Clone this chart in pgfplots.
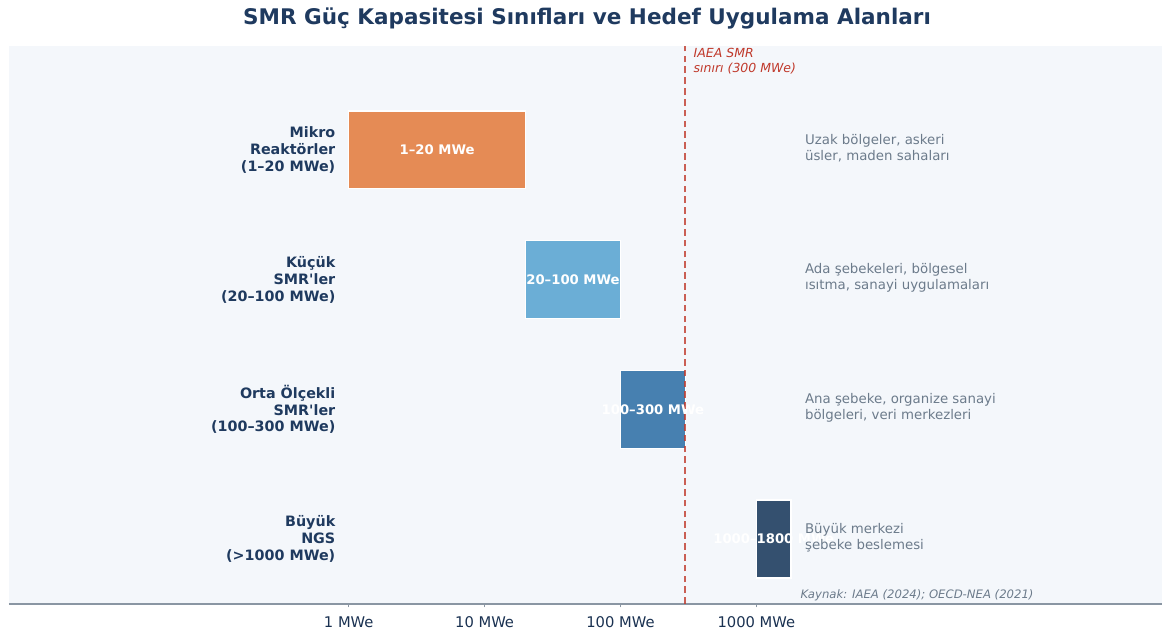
\documentclass[border=0pt]{standalone}
\usepackage{pgfplots}
\pgfplotsset{compat=1.18}
\usepackage{fontspec}
\setmainfont{DejaVu Sans}
\newlength\px
\setlength\px{0.72pt}
\definecolor{bgc}{HTML}{F4F7FB}
\definecolor{cmikro}{HTML}{E58B55}
\definecolor{ckucuk}{HTML}{6BAED6}
\definecolor{corta}{HTML}{4780B0}
\definecolor{cbuyuk}{HTML}{34506F}
\definecolor{ctitle}{HTML}{1F3A5F}
\definecolor{cgray}{HTML}{6C7B8B}
\definecolor{cred}{HTML}{C0392B}
\definecolor{cspine}{HTML}{8A96A3}
\begin{document}
\begin{tikzpicture}
\begin{axis}[
  at={(0,0)}, anchor=south west,
  width=1153\px, height=558\px, scale only axis,
  xmode=log, xmin=0.003162, xmax=966000,
  ymin=-0.5, ymax=3.8,
  axis background/.style={fill=bgc},
  axis x line*=bottom, axis y line=none,
  x axis line style={draw=cspine, line width=1.1pt},
  xtick={1,10,100,1000},
  xticklabels={1 MWe,10 MWe,100 MWe,1000 MWe},
  xminorticks=false,
  ytick=\empty,
  tick align=outside,
  major tick length=3.5\px,
  xtick style={draw=cspine, line width=0.8pt},
  xticklabel style={font=\fontsize{10.6pt}{12pt}\selectfont, text=ctitle!85!black, yshift=-3pt},
  clip=false,
]
\addplot[fill=cmikro, draw=white, line width=1pt] coordinates {(1,2.7) (20,2.7) (20,3.3) (1,3.3)} -- cycle;
\addplot[fill=ckucuk, draw=white, line width=1pt] coordinates {(20,1.7) (100,1.7) (100,2.3) (20,2.3)} -- cycle;
\addplot[fill=corta, draw=white, line width=1pt] coordinates {(100,0.7) (300,0.7) (300,1.3) (100,1.3)} -- cycle;
\addplot[fill=cbuyuk, draw=white, line width=1pt] coordinates {(1000,-0.3) (1800,-0.3) (1800,0.3) (1000,0.3)} -- cycle;
\addplot[draw=cred, draw opacity=0.8, line width=1.5pt, dash pattern=on 4.8pt off 3pt] coordinates {(300,-0.5) (300,3.8)};
% bar labels
\node[text=white, font=\bfseries\fontsize{9.5pt}{11pt}\selectfont] at (axis cs:4.472,3) {1–20 MWe};
\node[text=white, font=\bfseries\fontsize{9.5pt}{11pt}\selectfont] at (axis cs:44.72,2) {20–100 MWe};
\node[text=white, font=\bfseries\fontsize{9.5pt}{11pt}\selectfont] at (axis cs:173.2,1) {100–300 MWe};
\node[text=white, font=\bfseries\fontsize{9.5pt}{11pt}\selectfont] at (axis cs:1342,0) {1000–1800 MWe};
% category labels
\node[anchor=east, inner sep=0pt, align=right, text=ctitle, font=\bfseries\fontsize{10.3pt}{12.2pt}\selectfont] at (axis cs:0.8,3) {Mikro\\Reaktörler\\(1–20 MWe)};
\node[anchor=east, inner sep=0pt, align=right, text=ctitle, font=\bfseries\fontsize{10.3pt}{12.2pt}\selectfont] at (axis cs:0.8,2) {Küçük\\SMR\textquotesingle ler\\(20–100 MWe)};
\node[anchor=east, inner sep=0pt, align=right, text=ctitle, font=\bfseries\fontsize{10.3pt}{12.2pt}\selectfont] at (axis cs:0.8,1) {Orta Ölçekli\\SMR\textquotesingle ler\\(100–300 MWe)};
\node[anchor=east, inner sep=0pt, align=right, text=ctitle, font=\bfseries\fontsize{10.3pt}{12.2pt}\selectfont] at (axis cs:0.8,0) {Büyük\\NGS\\(>1000 MWe)};
% applications
\node[anchor=west, align=left, text=cgray, font=\fontsize{9.6pt}{11.5pt}\selectfont] at (axis cs:2100,3.01) {Uzak bölgeler, askeri\\üsler, maden sahaları};
\node[anchor=west, align=left, text=cgray, font=\fontsize{9.6pt}{11.5pt}\selectfont] at (axis cs:2100,2.01) {Ada şebekeleri, bölgesel\\ısıtma, sanayi uygulamaları};
\node[anchor=west, align=left, text=cgray, font=\fontsize{9.6pt}{11.5pt}\selectfont] at (axis cs:2100,1.01) {Ana şebeke, organize sanayi\\bölgeleri, veri merkezleri};
\node[anchor=west, align=left, text=cgray, font=\fontsize{9.6pt}{11.5pt}\selectfont] at (axis cs:2100,0.01) {Büyük merkezi\\şebeke beslemesi};
% IAEA label
\node[anchor=west, align=left, text=cred, font=\itshape\fontsize{9pt}{10.8pt}\selectfont] at (axis cs:318,3.68) {IAEA SMR\\sınırı (300 MWe)};
% source
\node[anchor=west, text=cgray, font=\itshape\fontsize{8.4pt}{10pt}\selectfont] at (axis cs:1950,-0.435) {Kaynak: IAEA (2024); OECD-NEA (2021)};
\end{axis}
\node[text=ctitle, font=\bfseries\fontsize{15.5pt}{18pt}\selectfont] at (578\px,585\px) {SMR Güç Kapasitesi Sınıfları ve Hedef Uygulama Alanları};
\pgfresetboundingbox
\path[use as bounding box] (-9\px,-28\px) rectangle (1153\px,604\px);
\end{tikzpicture}
\end{document}
